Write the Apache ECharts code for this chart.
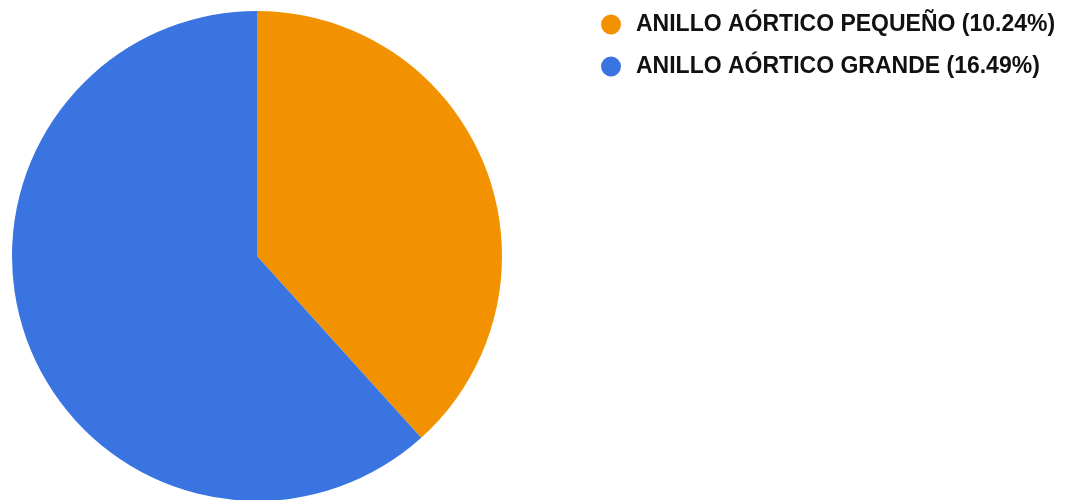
<!DOCTYPE html>
<html>
<head>
<meta charset="utf-8">
<script src="https://cdn.jsdelivr.net/npm/echarts@6/dist/echarts.min.js"></script>
<style>html,body{margin:0;padding:0;background:#fff;}#c{width:1082px;height:500px;}</style>
</head>
<body>
<div id="c"></div>
<script>
const categories = ['ANILLO AÓRTICO PEQUEÑO', 'ANILLO AÓRTICO GRANDE'];
const values = [10.24, 16.49];
const colors = ['#F39200', '#3A74E1'];

const chart = echarts.init(document.getElementById('c'));
chart.setOption({
  animation: false,
  color: colors,
  legend: {
    orient: 'vertical',
    left: 601,
    top: 13,
    padding: 0,
    icon: 'circle',
    itemWidth: 20,
    itemHeight: 20,
    itemGap: 19,
    data: categories,
    formatter: function (name) {
      const i = categories.indexOf(name);
      return name + ' (' + values[i].toFixed(2) + '%)';
    },
    textStyle: {
      fontFamily: 'Liberation Sans, Arial, sans-serif',
      fontWeight: 'bold',
      fontSize: 23,
      lineHeight: 23,
      color: '#111111',
      padding: [0, 0, 0, 10]
    }
  },
  series: [{
    type: 'pie',
    center: [257, 256],
    radius: 245,
    startAngle: 90,
    clockwise: true,
    label: { show: false },
    labelLine: { show: false },
    itemStyle: { borderWidth: 0 },
    emphasis: { disabled: true },
    data: categories.map((c, i) => ({ name: c, value: values[i] }))
  }]
});
</script>
</body>
</html>
